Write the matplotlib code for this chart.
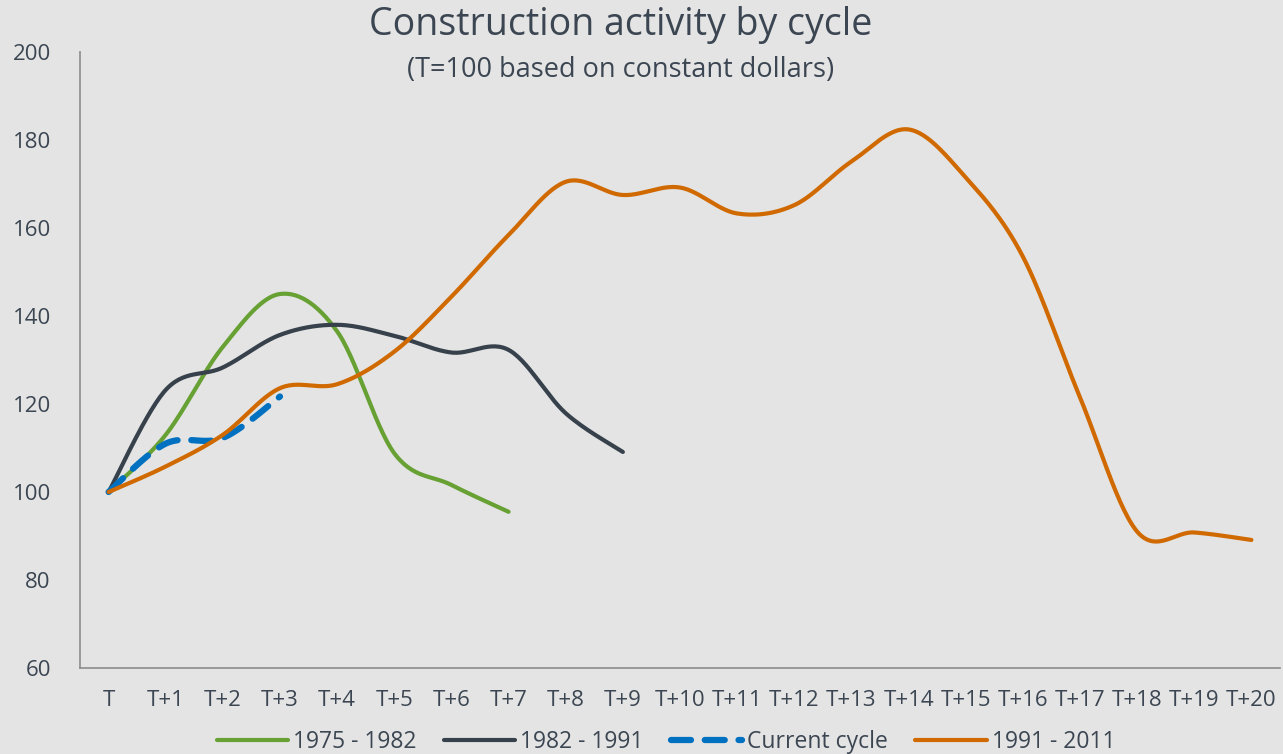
import numpy as np
import matplotlib
matplotlib.use("Agg")
import matplotlib.pyplot as plt

plt.rcParams['font.family'] = ['Open Sans', 'DejaVu Sans']

periods = ["T"] + ["T+%d" % i for i in range(1, 21)]
cycle_1975 = [100, 113, 133, 145, 136.5, 108.8, 101.6, 95.5]
cycle_1982 = [100, 123.2, 128.3, 135.7, 138, 135.5, 131.7, 132.3, 117.9, 109.1]
cycle_now = [100, 111, 112.3, 121.7]
cycle_1991 = [100, 105.8, 113, 123.6, 124.5, 131.9, 144.4, 158.4, 170.5, 167.5,
              169.2, 163.3, 165.2, 175.1, 182.4, 171.5, 153.5, 121.5, 91, 90.8, 89.1]

text_col = '#3b4652'
bg = '#e4e4e4'


def smooth(vals, n=30):
    # Excel-style smoothed line: cubic bezier through every point
    y = np.asarray(vals, float)
    x = np.arange(len(y), dtype=float)
    xs, ys = [], []
    for i in range(len(y) - 1):
        x0, y0 = (x[i-1], y[i-1]) if i > 0 else (x[i], y[i])
        x3, y3 = (x[i+2], y[i+2]) if i + 2 < len(y) else (x[i+1], y[i+1])
        c1 = (x[i] + (x[i+1] - x0) / 6, y[i] + (y[i+1] - y0) / 6)
        c2 = (x[i+1] - (x3 - x[i]) / 6, y[i+1] - (y3 - y[i]) / 6)
        t = np.linspace(0, 1, n, endpoint=(i == len(y) - 2))
        a, b, c, d = (1-t)**3, 3*(1-t)**2*t, 3*(1-t)*t**2, t**3
        xs.append(a*x[i] + b*c1[0] + c*c2[0] + d*x[i+1])
        ys.append(a*y[i] + b*c1[1] + c*c2[1] + d*y[i+1])
    return np.concatenate(xs), np.concatenate(ys)


fig = plt.figure(figsize=(12.83, 7.54), dpi=100, facecolor=bg)
ax = fig.add_axes([80/1283, 1-668/754, 1200/1283, 616/754], facecolor=bg)

ax.plot(*smooth(cycle_1975), color='#67a033', lw=3, solid_capstyle='round', label='1975 - 1982')
ax.plot(*smooth(cycle_1982), color='#37414b', lw=3, solid_capstyle='round', label='1982 - 1991')
ax.plot(*smooth(cycle_now), color='#0070c0', lw=4.5, dashes=(3.2, 2.2),
        dash_capstyle='round', label='Current cycle')
ax.plot(*smooth(cycle_1991), color='#d06a00', lw=3, solid_capstyle='round', label='1991 - 2011')

ax.set_xlim(-0.5, 20.5)
ax.set_ylim(60, 200)
ax.set_yticks(range(60, 201, 20))
ax.set_xticks(range(len(periods)))
ax.set_xticklabels(periods)
ax.tick_params(length=0, labelsize=16, labelcolor=text_col)
ax.tick_params(axis='y', pad=21)
ax.tick_params(axis='x', pad=16)
for s in ['top', 'right']:
    ax.spines[s].set_visible(False)
for s in ['left', 'bottom']:
    ax.spines[s].set_color('#8c8c8c')
    ax.spines[s].set_linewidth(1.2)

fig.text(621/1283, 1-25/754, 'Construction activity by cycle', ha='center', va='center',
         fontsize=27, color=text_col)
fig.text(621/1283, 1-70/754, '(T=100 based on constant dollars)', ha='center', va='center',
         fontsize=19.5, color=text_col)

fig.legend(loc='center', bbox_to_anchor=(666/1283, 1-742/754), ncol=4, frameon=False,
           fontsize=16.5, labelcolor=text_col, handlelength=3.1, handletextpad=0.22,
           columnspacing=1.2)

fig.savefig('out.png', dpi=100, facecolor=bg)
